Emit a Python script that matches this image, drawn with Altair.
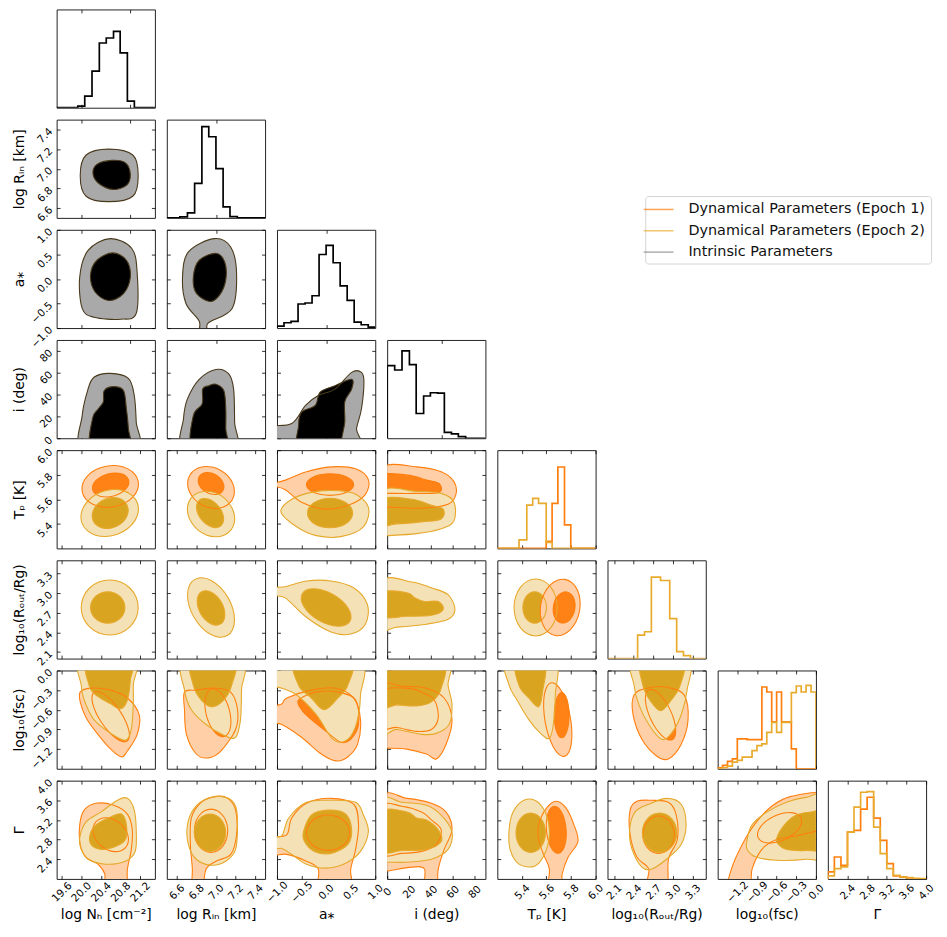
import math
import altair as alt
import pandas as pd

SERIES = ["Dynamical Parameters (Epoch 1)", "Dynamical Parameters (Epoch 2)", "Intrinsic Parameters"]
SERIES_COLORS = ["#ff7f0e", "#ebae30", "#8c8c8c"]

LABELS = ["log N\u2095 [cm\u207b\u00b2]", "log R\u1d62\u2099 [km]", "a\u204e", "i (deg)",
          "T\u209a [K]", "log\u2081\u2080(R\u2092\u1d64\u209c/Rg)", "log\u2081\u2080(fsc)", "\u0393"]
DOMAINS = [[19.5, 21.5], [6.5, 7.5], [-1.0, 1.0], [0.0, 90.0],
           [5.2, 6.0], [2.0, 3.5], [-1.5, 0.0], [2.0, 4.0]]
TICKS = [[19.6, 20.0, 20.4, 20.8, 21.2], [6.6, 6.8, 7.0, 7.2, 7.4], [-1.0, -0.5, 0.0, 0.5, 1.0],
         [0, 20, 40, 60, 80], [5.4, 5.6, 5.8, 6.0], [2.1, 2.4, 2.7, 3.0, 3.3],
         [-1.2, -0.9, -0.6, -0.3, 0.0], [2.4, 2.8, 3.2, 3.6, 4.0]]
TICKS_INTRINSIC = [[20.0, 21.0], [7.0], [0.0], [50.0]]
FORMATS = [".1f", ".1f", ".1f", "d", ".1f", ".1f", ".1f", ".1f"]

# ---------------- 1-D histograms (bin edges, counts) ----------------
H_NH_EDGES = [19.931, 20.072, 20.22, 20.369, 20.51, 20.658, 20.793, 20.94, 21.082]
H_NH_COUNTS = [5, 35, 110, 195, 210, 230, 165, 20]
H_RIN_EDGES = [6.633, 6.71, 6.783, 6.857, 6.927, 7.0, 7.073, 7.143, 7.217]
H_RIN_COUNTS = [3, 15, 103, 272, 242, 147, 33, 4]
H_A_EDGES = [-1.0, -0.857, -0.714, -0.571, -0.429, -0.286, -0.143, 0.0, 0.143, 0.286, 0.429, 0.571, 0.714, 0.857, 1.0]
H_A_COUNTS = [6, 16, 20, 73, 76, 98, 223, 251, 198, 128, 84, 18, 10, 3]
H_I_EDGES = [0.0, 6.9, 13.6, 20.4, 26.6, 33.4, 39.6, 46.2, 52.4, 58.9, 65.2, 71.9]
H_I_COUNTS = [220, 207, 265, 223, 75, 128, 138, 137, 18, 13, 5]
H_TP_E2_EDGES = [5.377, 5.44, 5.488, 5.536, 5.598, 5.646]
H_TP_E2_COUNTS = [26, 131, 151, 136, 18]
H_TP_E1_EDGES = [5.598, 5.646, 5.693, 5.747, 5.798]
H_TP_E1_COUNTS = [21, 136, 246, 71]
H_ROUT_E2_EDGES = [2.46, 2.566, 2.67, 2.81, 2.95, 3.056, 3.16, 3.266]
H_ROUT_E2_COUNTS = [71, 81, 246, 236, 121, 21, 9]
H_FSC_EDGES = [-1.5, -1.425, -1.35, -1.275, -1.2, -1.125, -1.05, -0.975, -0.9, -0.825, -0.75,
               -0.675, -0.6, -0.525, -0.45, -0.375, -0.3, -0.225, -0.15, -0.075, 0.0]
H_FSC_E1_COUNTS = [3, 10, 22, 30, 90, 90, 88, 88, 88, 247, 232, 142, 232, 142, 142, 60, 0, 0, 0, 0]
H_FSC_E2_COUNTS = [0, 3, 8, 20, 25, 35, 35, 55, 70, 75, 110, 140, 110, 140, 140, 230, 250, 232, 252, 232]
H_G_EDGES = [2.0, 2.133, 2.267, 2.4, 2.533, 2.667, 2.8, 2.933, 3.067, 3.2, 3.333, 3.467, 3.6, 3.733, 3.867, 4.0]
H_G_E1_COUNTS = [21, 66, 41, 141, 146, 210, 246, 183, 116, 46, 9, 5, 3, 0, 0]
H_G_E2_COUNTS = [9, 31, 36, 141, 216, 261, 263, 156, 76, 31, 11, 6, 4, 2, 1]

HISTS = {
    0: (296, [("int", H_NH_EDGES, H_NH_COUNTS)]),
    1: (293, [("int", H_RIN_EDGES, H_RIN_COUNTS)]),
    2: (298, [("int", H_A_EDGES, H_A_COUNTS)]),
    3: (298, [("int", H_I_EDGES, H_I_COUNTS)]),
    4: (297, [("e1", H_TP_E1_EDGES, H_TP_E1_COUNTS), ("e2", H_TP_E2_EDGES, H_TP_E2_COUNTS)]),
    5: (297, [("e2", H_ROUT_E2_EDGES, H_ROUT_E2_COUNTS)]),
    6: (297, [("e1", H_FSC_EDGES, H_FSC_E1_COUNTS), ("e2", H_FSC_EDGES, H_FSC_E2_COUNTS)]),
    7: (296, [("e1", H_G_EDGES, H_G_E1_COUNTS), ("e2", H_G_EDGES, H_G_E2_COUNTS)]),
}


def ell(cx, cy, rx, ry, ang=0.0, n=16):
    """Outline of a (rotated) ellipse given in panel-fraction units."""
    a = math.radians(ang)
    out = []
    for k in range(n):
        t = 2 * math.pi * k / n
        x, y = rx * math.cos(t), ry * math.sin(t)
        out.append((cx + x * math.cos(a) - y * math.sin(a), cy + x * math.sin(a) + y * math.cos(a)))
    return out


# ---------------- 2-D credible contours (panel-fraction outlines) ----------------
P_1_0 = [("int", "out", [(0.83, 0.43), (0.775, 0.64), (0.53, 0.70), (0.30, 0.64), (0.24, 0.43), (0.30, 0.22), (0.53, 0.165), (0.775, 0.22)]),
         ("int", "in", [(0.75, 0.44), (0.70, 0.56), (0.56, 0.585), (0.41, 0.545), (0.37, 0.45), (0.43, 0.35), (0.57, 0.29), (0.71, 0.33)])]
P_2_0 = [("int", "out", [(0.82, 0.555), (0.765, 0.81), (0.545, 0.91), (0.32, 0.79), (0.235, 0.52), (0.26, 0.20), (0.38, 0.11), (0.65, 0.09), (0.81, 0.15)]),
         ("int", "in", [(0.75, 0.52), (0.71, 0.69), (0.57, 0.765), (0.41, 0.69), (0.345, 0.54), (0.39, 0.37), (0.53, 0.28), (0.68, 0.35)])]
P_2_1 = [("int", "out", [(0.71, 0.555), (0.65, 0.825), (0.48, 0.91), (0.22, 0.775), (0.16, 0.52), (0.195, 0.25), (0.33, 0.07), (0.33, -0.05), (0.42, -0.05), (0.42, 0.05), (0.665, 0.20)]),
         ("int", "in", [(0.60, 0.49), (0.59, 0.67), (0.50, 0.76), (0.33, 0.69), (0.27, 0.52), (0.30, 0.355), (0.44, 0.27), (0.54, 0.34)])]
P_3_0 = [("int", "out", [(0.26, -0.10), (0.26, 0.23), (0.315, 0.485), (0.38, 0.62), (0.545, 0.66), (0.73, 0.61), (0.79, 0.435), (0.81, 0.165), (0.815, -0.10)]),
         ("int", "in", [(0.36, -0.1), (0.365, 0.20), (0.425, 0.30), (0.475, 0.37), (0.485, 0.485), (0.58, 0.525), (0.68, 0.485), (0.71, 0.30), (0.73, 0.10), (0.73, -0.1)])]
P_3_1 = [("int", "out", [(0.17, -0.1), (0.17, 0.20), (0.21, 0.40), (0.33, 0.60), (0.50, 0.70), (0.63, 0.655), (0.68, 0.50), (0.69, 0.165), (0.69, -0.1)]),
         ("int", "in", [(0.26, -0.1), (0.27, 0.23), (0.36, 0.35), (0.365, 0.50), (0.43, 0.535), (0.50, 0.55), (0.58, 0.485), (0.60, 0.30), (0.60, 0.10), (0.60, -0.1)])]
P_3_2 = [("int", "out", [(-0.1, 0.105), (0.15, 0.15), (0.29, 0.335), (0.42, 0.435), (0.59, 0.50), (0.76, 0.67), (0.86, 0.67), (0.885, 0.57), (0.86, 0.30), (0.81, 0.10), (0.79, -0.1), (-0.1, -0.1)]),
         ("int", "in", [(0.235, -0.1), (0.22, 0.13), (0.25, 0.265), (0.39, 0.335), (0.44, 0.47), (0.59, 0.535), (0.76, 0.60), (0.76, 0.50), (0.69, 0.37), (0.69, 0.165), (0.66, 0.0), (0.66, -0.1)])]

P_4_0 = [("e1", "out", ell(0.545, 0.63, 0.29, 0.21, 10)), ("e1", "in", ell(0.55, 0.645, 0.19, 0.115, 15)),
         ("e2", "out", ell(0.54, 0.36, 0.30, 0.23, 20)), ("e2", "in", ell(0.545, 0.36, 0.19, 0.15, 25))]
P_4_1 = [("e1", "out", ell(0.45, 0.62, 0.25, 0.20, -30)), ("e1", "in", ell(0.45, 0.66, 0.14, 0.10, -30)),
         ("e2", "out", ell(0.45, 0.35, 0.26, 0.21, -40)), ("e2", "in", ell(0.44, 0.36, 0.17, 0.11, -50))]
P_4_2 = [("e1", "out", [(-0.05, 0.655), (0.10, 0.70), (0.30, 0.78), (0.55, 0.83), (0.80, 0.81), (0.93, 0.70), (0.90, 0.55), (0.75, 0.45), (0.50, 0.40), (0.25, 0.47), (0.08, 0.60), (-0.05, 0.635)]),
         ("e1", "in", ell(0.54, 0.65, 0.24, 0.11, 0)),
         ("e2", "out", [(0.04, 0.375), (0.15, 0.50), (0.35, 0.57), (0.55, 0.59), (0.78, 0.56), (0.93, 0.42), (0.88, 0.22), (0.65, 0.12), (0.40, 0.13), (0.20, 0.22)]),
         ("e2", "in", ell(0.54, 0.36, 0.23, 0.15, 0))]
P_4_3 = [("e1", "out", [(-0.05, 0.82), (0.30, 0.83), (0.55, 0.78), (0.68, 0.68), (0.70, 0.55), (0.62, 0.45), (0.35, 0.41), (0.0, 0.42), (-0.05, 0.42)]),
         ("e1", "in", [(-0.05, 0.75), (0.25, 0.74), (0.38, 0.70), (0.53, 0.66), (0.53, 0.57), (0.30, 0.56), (0.0, 0.56), (-0.05, 0.56)]),
         ("e2", "out", [(-0.05, 0.58), (0.30, 0.58), (0.55, 0.56), (0.68, 0.47), (0.68, 0.28), (0.55, 0.20), (0.30, 0.15), (0.0, 0.13), (-0.05, 0.13)]),
         ("e2", "in", [(-0.05, 0.50), (0.25, 0.50), (0.45, 0.44), (0.57, 0.40), (0.55, 0.30), (0.35, 0.27), (0.10, 0.25), (-0.05, 0.25)])]

P_5_0 = [("e2", "out", ell(0.54, 0.52, 0.29, 0.28, 0)), ("e2", "in", ell(0.52, 0.52, 0.175, 0.16, 0))]
P_5_1 = [("e2", "out", ell(0.45, 0.52, 0.33, 0.20, -60)), ("e2", "in", ell(0.45, 0.515, 0.19, 0.12, -60))]
P_5_2 = [("e2", "out", [(-0.05, 0.72), (0.08, 0.73), (0.30, 0.79), (0.55, 0.79), (0.78, 0.72), (0.92, 0.55), (0.90, 0.35), (0.75, 0.25), (0.55, 0.27), (0.30, 0.42), (0.08, 0.62), (-0.05, 0.64)]),
         ("e2", "in", ell(0.50, 0.52, 0.28, 0.15, -30))]
P_5_3 = [("e2", "out", [(-0.05, 0.79), (0.25, 0.78), (0.45, 0.72), (0.62, 0.65), (0.69, 0.50), (0.62, 0.40), (0.40, 0.35), (0.10, 0.32), (-0.05, 0.32)]),
         ("e2", "in", [(-0.05, 0.67), (0.2, 0.67), (0.28, 0.62), (0.38, 0.58), (0.52, 0.58), (0.57, 0.50), (0.45, 0.44), (0.2, 0.43), (-0.05, 0.43)])]
P_5_4 = [("e2", "out", ell(0.39, 0.52, 0.22, 0.29, 0)), ("e2", "in", ell(0.38, 0.52, 0.12, 0.16, 0)),
         ("e1", "out", ell(0.64, 0.52, 0.20, 0.29, -10)), ("e1", "in", ell(0.68, 0.52, 0.11, 0.16, -10))]

P_6_0 = [("e1", "out", [(0.24, 0.78), (0.35, 0.82), (0.55, 0.80), (0.72, 0.72), (0.84, 0.55), (0.82, 0.35), (0.72, 0.18), (0.66, 0.12), (0.55, 0.20), (0.42, 0.35), (0.30, 0.52), (0.24, 0.68)]),
         ("e1", "in", ell(0.55, 0.53, 0.30, 0.11, -56)),
         ("e2", "out", [(0.25, 1.1), (0.25, 0.85), (0.28, 0.70), (0.38, 0.50), (0.55, 0.36), (0.70, 0.29), (0.76, 0.40), (0.78, 0.65), (0.78, 0.85), (0.78, 1.1)]),
         ("e2", "in", [(0.32, 1.1), (0.33, 0.85), (0.40, 0.75), (0.55, 0.66), (0.65, 0.61), (0.72, 0.70), (0.75, 0.90), (0.75, 1.1)])]
P_6_1 = [("e1", "out", [(0.18, 0.78), (0.30, 0.80), (0.50, 0.82), (0.65, 0.78), (0.72, 0.60), (0.70, 0.40), (0.55, 0.18), (0.42, 0.11), (0.30, 0.15), (0.20, 0.35), (0.18, 0.60)]),
         ("e1", "in", ell(0.52, 0.57, 0.25, 0.12, -75)),
         ("e2", "out", [(0.18, 1.1), (0.18, 0.80), (0.25, 0.60), (0.40, 0.45), (0.58, 0.34), (0.70, 0.32), (0.75, 0.50), (0.76, 0.80), (0.76, 1.1)]),
         ("e2", "in", [(0.26, 1.1), (0.27, 0.85), (0.35, 0.70), (0.46, 0.63), (0.58, 0.70), (0.66, 0.85), (0.68, 1.1)])]
P_6_2 = [("e1", "out", [(-0.05, 0.62), (0.05, 0.66), (0.10, 0.72), (0.35, 0.80), (0.60, 0.82), (0.78, 0.72), (0.85, 0.50), (0.82, 0.25), (0.72, 0.12), (0.60, 0.08), (0.45, 0.15), (0.25, 0.32), (0.05, 0.45), (-0.05, 0.48)]),
         ("e1", "in", [(0.22, 0.70), (0.40, 0.78), (0.62, 0.78), (0.80, 0.70), (0.83, 0.45), (0.75, 0.30), (0.65, 0.27), (0.50, 0.38), (0.35, 0.50), (0.25, 0.60)]),
         ("e2", "out", [(-0.05, 1.1), (-0.05, 0.86), (0.05, 0.82), (0.20, 0.75), (0.40, 0.55), (0.55, 0.32), (0.65, 0.27), (0.75, 0.33), (0.82, 0.50), (0.85, 0.75), (0.82, 1.1)]),
         ("e2", "in", [(0.20, 1.1), (0.22, 0.85), (0.35, 0.72), (0.48, 0.60), (0.62, 0.72), (0.72, 0.85), (0.74, 1.1)])]
P_6_3 = [("e1", "out", [(-0.05, 0.82), (0.15, 0.84), (0.40, 0.82), (0.58, 0.72), (0.66, 0.50), (0.60, 0.25), (0.50, 0.10), (0.40, 0.15), (0.20, 0.20), (0.0, 0.21), (-0.05, 0.21)]),
         ("e1", "in", [(-0.05, 0.78), (0.20, 0.82), (0.35, 0.78), (0.48, 0.70), (0.52, 0.52), (0.45, 0.40), (0.30, 0.38), (0.10, 0.42), (-0.05, 0.43)]),
         ("e2", "out", [(-0.05, 1.1), (0.6, 1.1), (0.62, 0.85), (0.66, 0.65), (0.63, 0.45), (0.50, 0.36), (0.35, 0.35), (0.10, 0.40), (-0.05, 0.40)]),
         ("e2", "in", [(-0.05, 1.1), (0.55, 1.1), (0.55, 0.82), (0.45, 0.68), (0.30, 0.64), (0.10, 0.65), (-0.05, 0.65)])]
P_6_4 = [("e1", "out", ell(0.615, 0.50, 0.13, 0.38, 10)), ("e1", "in", ell(0.655, 0.545, 0.075, 0.23, 0)),
         ("e2", "out", [(0.10, 1.1), (0.12, 0.85), (0.20, 0.70), (0.32, 0.50), (0.45, 0.35), (0.53, 0.31), (0.57, 0.45), (0.59, 0.75), (0.58, 1.1)]),
         ("e2", "in", [(0.19, 1.1), (0.22, 0.85), (0.32, 0.72), (0.42, 0.63), (0.46, 0.78), (0.48, 1.1)])]
P_6_5 = [("e1", "out", [(0.27, 0.75), (0.40, 0.82), (0.60, 0.83), (0.78, 0.75), (0.82, 0.50), (0.75, 0.25), (0.62, 0.10), (0.50, 0.13), (0.35, 0.30), (0.26, 0.55)]),
         ("e1", "in", ell(0.54, 0.55, 0.28, 0.11, -65)),
         ("e2", "out", [(0.27, 1.1), (0.27, 0.85), (0.32, 0.65), (0.42, 0.45), (0.55, 0.30), (0.65, 0.36), (0.75, 0.55), (0.81, 0.80), (0.81, 1.1)]),
         ("e2", "in", [(0.355, 1.1), (0.36, 0.85), (0.43, 0.70), (0.54, 0.59), (0.65, 0.70), (0.74, 0.85), (0.76, 1.1)])]

P_7_0 = [("e1", "out", [(0.235, 0.55), (0.28, 0.70), (0.40, 0.77), (0.58, 0.75), (0.72, 0.66), (0.77, 0.50), (0.76, 0.30), (0.72, 0.10), (0.70, -0.1), (0.50, -0.1), (0.49, 0.05), (0.42, 0.15), (0.30, 0.22), (0.24, 0.35)]),
         ("e1", "in", ell(0.55, 0.45, 0.20, 0.15, -40)),
         ("e2", "out", [(0.235, 0.42), (0.30, 0.58), (0.45, 0.68), (0.62, 0.80), (0.72, 0.82), (0.79, 0.70), (0.81, 0.50), (0.80, 0.28), (0.70, 0.18), (0.50, 0.15), (0.32, 0.20), (0.25, 0.30)]),
         ("e2", "in", [(0.34, 0.45), (0.40, 0.55), (0.55, 0.63), (0.66, 0.66), (0.71, 0.55), (0.70, 0.40), (0.60, 0.33), (0.45, 0.30), (0.35, 0.35)])]
P_7_1 = [("e1", "out", [(0.25, 0.62), (0.35, 0.78), (0.50, 0.84), (0.62, 0.82), (0.70, 0.70), (0.71, 0.45), (0.65, 0.25), (0.50, 0.18), (0.40, 0.10), (0.36, -0.1), (0.26, -0.1), (0.26, 0.10), (0.24, 0.35)]),
         ("e1", "in", ell(0.45, 0.49, 0.17, 0.22, 0)),
         ("e2", "out", [(0.21, 0.55), (0.28, 0.72), (0.42, 0.82), (0.60, 0.83), (0.70, 0.74), (0.72, 0.55), (0.70, 0.30), (0.60, 0.18), (0.45, 0.14), (0.30, 0.20), (0.22, 0.35)]),
         ("e2", "in", ell(0.44, 0.47, 0.16, 0.19, 0))]
P_7_2 = [("e1", "out", [(-0.05, 0.41), (0.10, 0.45), (0.15, 0.62), (0.30, 0.77), (0.55, 0.82), (0.78, 0.76), (0.83, 0.55), (0.80, 0.30), (0.75, 0.10), (0.74, -0.1), (0.44, -0.1), (0.42, 0.10), (0.30, 0.18), (0.10, 0.25), (-0.05, 0.25)]),
         ("e1", "in", ell(0.52, 0.47, 0.22, 0.18, 0)),
         ("e2", "out", [(-0.05, 0.43), (0.05, 0.44), (0.12, 0.62), (0.30, 0.78), (0.55, 0.80), (0.80, 0.78), (0.88, 0.65), (0.93, 0.48), (0.85, 0.28), (0.70, 0.16), (0.50, 0.11), (0.30, 0.15), (0.15, 0.25), (0.05, 0.31), (-0.05, 0.31)]),
         ("e2", "in", [(0.27, 0.48), (0.35, 0.65), (0.52, 0.70), (0.70, 0.66), (0.76, 0.50), (0.72, 0.35), (0.55, 0.26), (0.38, 0.28), (0.28, 0.38)])]
P_7_3 = [("e1", "out", [(-0.05, 0.82), (0.20, 0.82), (0.45, 0.77), (0.60, 0.68), (0.66, 0.50), (0.58, 0.30), (0.52, 0.10), (0.50, -0.1), (0.38, -0.1), (0.38, 0.10), (0.25, 0.12), (0.0, 0.08), (-0.05, 0.08)]),
         ("e1", "in", [(-0.05, 0.73), (0.15, 0.74), (0.35, 0.68), (0.45, 0.60), (0.55, 0.50), (0.50, 0.35), (0.35, 0.28), (0.15, 0.26), (-0.05, 0.27)]),
         ("e2", "out", [(-0.05, 0.79), (0.15, 0.78), (0.40, 0.75), (0.55, 0.65), (0.66, 0.48), (0.62, 0.30), (0.45, 0.20), (0.20, 0.17), (0.0, 0.17), (-0.05, 0.17)]),
         ("e2", "in", [(-0.05, 0.68), (0.20, 0.68), (0.30, 0.62), (0.40, 0.60), (0.52, 0.50), (0.55, 0.38), (0.40, 0.30), (0.15, 0.29), (-0.05, 0.29)])]
P_7_4 = [("e1", "out", [(0.42, 0.55), (0.50, 0.72), (0.60, 0.79), (0.70, 0.72), (0.78, 0.55), (0.82, 0.38), (0.72, 0.22), (0.66, 0.05), (0.65, -0.1), (0.52, -0.1), (0.53, 0.10), (0.47, 0.25), (0.42, 0.40)]),
         ("e1", "in", ell(0.60, 0.50, 0.10, 0.24, 5)),
         ("e2", "out", [(0.12, 0.50), (0.16, 0.68), (0.27, 0.80), (0.40, 0.79), (0.50, 0.65), (0.53, 0.45), (0.48, 0.25), (0.38, 0.13), (0.22, 0.15), (0.13, 0.30)]),
         ("e2", "in", ell(0.34, 0.47, 0.15, 0.20, 0))]
P_7_5 = [("e1", "out", [(0.23, 0.70), (0.30, 0.79), (0.45, 0.80), (0.62, 0.78), (0.70, 0.65), (0.71, 0.40), (0.62, 0.20), (0.60, -0.1), (0.40, -0.1), (0.42, 0.10), (0.30, 0.22), (0.23, 0.45)]),
         ("e1", "in", ell(0.52, 0.45, 0.16, 0.19, 0)),
         ("e2", "out", [(0.225, 0.50), (0.28, 0.68), (0.42, 0.76), (0.60, 0.82), (0.75, 0.76), (0.80, 0.55), (0.75, 0.35), (0.60, 0.20), (0.45, 0.10), (0.35, 0.12), (0.25, 0.30)]),
         ("e2", "in", ell(0.53, 0.47, 0.175, 0.20, 0))]
P_7_6 = [("e1", "out", [(0.11, -0.1), (0.14, 0.10), (0.25, 0.35), (0.38, 0.56), (0.55, 0.74), (0.75, 0.84), (1.1, 0.86), (1.1, 0.55), (0.85, 0.45), (0.60, 0.40), (0.45, 0.30), (0.35, 0.10), (0.32, -0.1)]),
         ("e1", "in", ell(0.63, 0.52, 0.24, 0.13, 25)),
         ("e2", "out", [(0.30, 0.40), (0.35, 0.55), (0.50, 0.68), (0.70, 0.78), (0.90, 0.83), (1.1, 0.83), (1.1, 0.25), (0.90, 0.20), (0.60, 0.19), (0.40, 0.22), (0.30, 0.30)]),
         ("e2", "in", [(0.60, 0.41), (0.68, 0.55), (0.80, 0.65), (0.95, 0.68), (1.1, 0.68), (1.1, 0.32), (0.90, 0.29), (0.70, 0.30), (0.62, 0.35)])]

PANELS = {(1, 0): P_1_0, (2, 0): P_2_0, (2, 1): P_2_1, (3, 0): P_3_0, (3, 1): P_3_1, (3, 2): P_3_2,
          (4, 0): P_4_0, (4, 1): P_4_1, (4, 2): P_4_2, (4, 3): P_4_3,
          (5, 0): P_5_0, (5, 1): P_5_1, (5, 2): P_5_2, (5, 3): P_5_3, (5, 4): P_5_4,
          (6, 0): P_6_0, (6, 1): P_6_1, (6, 2): P_6_2, (6, 3): P_6_3, (6, 4): P_6_4, (6, 5): P_6_5,
          (7, 0): P_7_0, (7, 1): P_7_1, (7, 2): P_7_2, (7, 3): P_7_3, (7, 4): P_7_4, (7, 5): P_7_5, (7, 6): P_7_6}

FILL = {("int", "out"): "#a9a9a9", ("int", "in"): "#000000",
        ("e1", "out"): "#ffd0a8", ("e1", "in"): "#ff8216",
        ("e2", "out"): "#f4e1b6", ("e2", "in"): "#d9a521"}
LINE = {"int": "#4a3a1c", "e1": "#ff7f0e", "e2": "#e6a92c"}
HIST_LINE = {"int": "#000000", "e1": "#ff7f0e", "e2": "#e8ab2e"}

SIZE = 99
TICK = dict(tickSize=3.5, offset=-3.5, domain=False, grid=False, tickColor="#000000",
            tickWidth=0.8, labelFlush=False, labelOverlap=False)


def xticks(i, j):
    return TICKS_INTRINSIC[j] if (i <= 3 and j <= 3) else TICKS[j]


def bottom_axis(i, j):
    if i == 7:
        return alt.Axis(orient="bottom", values=xticks(i, j), format=FORMATS[j], labels=True,
                        labelAngle=315, labelAlign="center", labelBaseline="middle", labelPadding=13,
                        labelFontSize=10.5, title=LABELS[j], titleFontSize=14, titleFontWeight="normal",
                        titleBaseline="top", titleY=32.5, **TICK)
    return alt.Axis(orient="bottom", values=xticks(i, j), labels=False, title=None, **TICK)


def left_axis(i, j):
    if j == 0:
        return alt.Axis(orient="left", values=TICKS[i], format=FORMATS[i], labels=True,
                        labelAngle=315, labelAlign="right", labelBaseline="middle", labelPadding=6,
                        labelFontSize=10.5, title=LABELS[i], titleFontSize=14, titleFontWeight="normal",
                        titleAngle=270, titleBaseline="bottom", titleX=-33.5, titleY=49.5, **TICK)
    return alt.Axis(orient="left", values=TICKS[i], labels=False, title=None, **TICK)


def to_data(pts, xd, yd):
    return pd.DataFrame({
        "x": [xd[0] + u * (xd[1] - xd[0]) for u, v in pts],
        "y": [yd[0] + v * (yd[1] - yd[0]) for u, v in pts],
        "k": list(range(len(pts))),
    })


LEGEND = alt.Legend(title=None, orient="none", legendX=593, legendY=188,
                    symbolType="M-2,0H2", symbolSize=225, symbolStrokeWidth=1.5,
                    labelFontSize=14.5, labelOffset=21.5, rowPadding=6.5, padding=5,
                    strokeColor="#d4d4d4", cornerRadius=3, fillColor="white",
                    labelLimit=400, labelColor="#111111")


def panel(i, j):
    xd = DOMAINS[j]
    xs = alt.Scale(domain=xd, nice=False, zero=False)
    bx = bottom_axis(i, j)
    layers = []
    if i == j:
        ymax, hs = HISTS[j]
        yd = [0, ymax]
        ys = alt.Scale(domain=yd, nice=False, zero=False)
        for key, edges, counts in hs:
            xsv = [xd[0], edges[0], edges[0]] + list(edges[1:-1]) + [edges[-1], xd[1]]
            ysv = [0, 0, counts[0]] + list(counts[1:]) + [0, 0]
            df = pd.DataFrame({"x": xsv, "y": ysv, "k": list(range(len(xsv)))})
            layers.append(alt.Chart(df).mark_line(interpolate="step-after", clip=True,
                                                  stroke=HIST_LINE[key], strokeWidth=1.7)
                          .encode(x=alt.X("x:Q", scale=xs, axis=bx),
                                  y=alt.Y("y:Q", scale=ys, axis=None),
                                  order=alt.Order("k:Q")))
        if j == 0:
            leg = pd.DataFrame({"s": SERIES, "x": [xd[0] - 50.0] * 3, "y": [0.0] * 3})
            layers.append(alt.Chart(leg).mark_point(clip=True, filled=False).encode(
                x=alt.X("x:Q", scale=xs, axis=bx),
                y=alt.Y("y:Q", scale=ys, axis=None),
                color=alt.Color("s:N", scale=alt.Scale(domain=SERIES, range=SERIES_COLORS),
                                legend=LEGEND)))
        yaxis_right = None
    else:
        yd = DOMAINS[i]
        ys = alt.Scale(domain=yd, nice=False, zero=False)
        ly = left_axis(i, j)
        spec = PANELS[(i, j)]
        for key, lvl, pts in spec:
            layers.append(alt.Chart(to_data(pts, xd, yd)).mark_line(
                interpolate="cardinal-closed", clip=True, fill=FILL[(key, lvl)], strokeWidth=0)
                .encode(x=alt.X("x:Q", scale=xs, axis=bx), y=alt.Y("y:Q", scale=ys, axis=ly),
                        order=alt.Order("k:Q")))
        for key, lvl, pts in spec:
            layers.append(alt.Chart(to_data(pts, xd, yd)).mark_line(
                interpolate="cardinal-closed", clip=True, stroke=LINE[key], strokeWidth=1.1)
                .encode(x=alt.X("x:Q", scale=xs, axis=bx), y=alt.Y("y:Q", scale=ys, axis=ly),
                        order=alt.Order("k:Q")))
        yaxis_right = alt.Axis(orient="right", values=TICKS[i], labels=False, title=None, **TICK)

    main = alt.layer(*layers)
    tdf = pd.DataFrame({"x": [sum(xd) / 2], "y": [sum(yd) / 2]})
    tick_layer = alt.Chart(tdf).mark_point(opacity=0).encode(
        x=alt.X("x:Q", scale=alt.Scale(domain=xd, nice=False, zero=False),
                axis=alt.Axis(orient="top", values=xticks(i, j), labels=False, title=None, **TICK)),
        y=alt.Y("y:Q", scale=alt.Scale(domain=yd, nice=False, zero=False), axis=yaxis_right))
    return alt.layer(main, tick_layer).resolve_scale(x="independent", y="independent").properties(
        width=SIZE, height=SIZE)


def blank():
    return alt.Chart(pd.DataFrame({"x": [0.0]})).mark_point(opacity=0).encode(
        x=alt.X("x:Q", axis=None), y=alt.Y("x:Q", axis=None)).properties(
        width=SIZE, height=SIZE, view=alt.ViewBackground(stroke="transparent"))


cells = []
for i in range(8):
    for j in range(8):
        cells.append(panel(i, j) if j <= i else blank())

chart = alt.concat(*cells, columns=8, spacing=12, bounds="flush").properties(
    padding={"left": 4, "top": -3, "right": 2, "bottom": 2}
).configure(font="DejaVu Sans").configure_view(stroke="#222222", strokeWidth=1).configure_axis(
    labelColor="#000000", titleColor="#000000", labelFont="DejaVu Sans", titleFont="DejaVu Sans")

chart.save("out.html", embed_options={"renderer": "svg", "actions": False})
